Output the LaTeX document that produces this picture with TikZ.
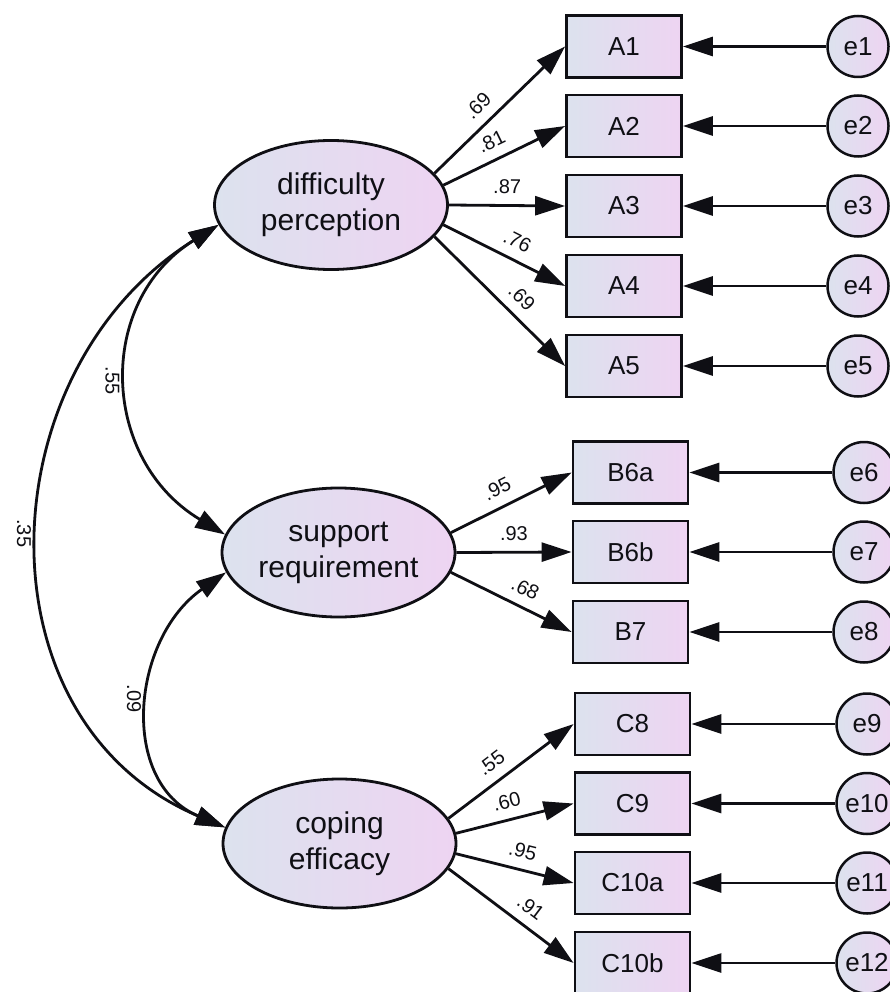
\documentclass[tikz,border=0pt]{standalone}
\usepackage{fontspec}
\setmainfont{Liberation Sans}[Ligatures=NoCommon]
\usetikzlibrary{arrows.meta,shapes.geometric}
\definecolor{fillL}{RGB}{220,226,238}
\definecolor{fillR}{RGB}{238,212,242}
\definecolor{ink}{RGB}{15,15,20}
\begin{document}
\begin{tikzpicture}[x=1pt,y=1pt,
  latent/.style={ellipse, draw=ink, line width=2.8pt, left color=fillL, right color=fillR,
    minimum width=233pt, minimum height=129pt, inner sep=0pt, align=center,
    font=\fontsize{30}{36}\selectfont, text=ink},
  obs/.style={rectangle, draw=ink, line width=2.8pt, left color=fillL, right color=fillR,
    minimum width=115pt, minimum height=62pt, inner sep=0pt,
    font=\fontsize{26}{30}\selectfont, text=ink},
  err/.style={circle, draw=ink, line width=2.5pt, left color=fillL, right color=fillR,
    minimum size=61pt, inner sep=0pt, font=\fontsize{26}{30}\selectfont, text=ink},
  reg/.style={draw=ink, line width=2.8pt, -{Triangle[length=30pt,width=19pt]}},
  cov/.style={draw=ink, line width=2.8pt, {Triangle[length=30pt,width=19pt]}-{Triangle[length=30pt,width=19pt]}},
  coef/.style={font=\fontsize{20}{22}\selectfont, text=ink, sloped, above=8pt, inner sep=2pt},
  clbl/.style={font=\fontsize{20}{22}\selectfont, text=ink, rotate=-90, anchor=north, inner sep=8pt}
]
\path[use as bounding box, clip] (0,0) rectangle (890,-992);

% latent variables
\node[latent] (dp) at (331,-205) {difficulty\\perception};
\node[latent] (sr) at (338.5,-552.5) {support\\requirement};
\node[latent] (cp) at (339.5,-843.5) {coping\\efficacy};

% observed variables
\node[obs] (A1) at (624,-46.5) {A1};
\node[obs] (A2) at (624,-126) {A2};
\node[obs] (A3) at (624,-206) {A3};
\node[obs] (A4) at (624,-286) {A4};
\node[obs] (A5) at (624,-366) {A5};
\node[obs] (B6a) at (630.5,-472.5) {B6a};
\node[obs] (B6b) at (630.5,-552) {B6b};
\node[obs] (B7) at (630.5,-632) {B7};
\node[obs] (C8) at (632.5,-724) {C8};
\node[obs] (C9) at (632.5,-803.5) {C9};
\node[obs] (C10a) at (632.5,-883) {C10a};
\node[obs] (C10b) at (632.5,-963) {C10b};

% error terms
\node[err] (e1) at (858,-46.5) {e1};
\node[err] (e2) at (858,-126) {e2};
\node[err] (e3) at (858,-206) {e3};
\node[err] (e4) at (858,-286) {e4};
\node[err] (e5) at (858,-366) {e5};
\node[err] (e6) at (864,-472.5) {e6};
\node[err] (e7) at (864,-552) {e7};
\node[err] (e8) at (864,-632) {e8};
\node[err] (e9) at (867,-724) {e9};
\node[err] (e10) at (867,-803.5) {e10};
\node[err] (e11) at (867,-883) {e11};
\node[err] (e12) at (867,-963) {e12};

% loadings
\draw[reg] (dp.17) -- node[coef,pos=0.43] (l1) {.69} (A1.west);
\draw[reg] (dp.10) -- node[coef,pos=0.46] (l2) {.81} (A2.west);
\draw[reg] (dp.0) -- node[coef,pos=0.5] (l3) {.87} (A3.west);
\draw[reg] (dp.-10) -- node[coef,pos=0.54] (l4) {.76} (A4.west);
\draw[reg] (dp.-17) -- node[coef,pos=0.57] (l5) {.69} (A5.west);

\draw[reg] (sr.10) -- node[coef,pos=0.45] (l6) {.95} (B6a.west);
\draw[reg] (sr.0) -- node[coef,pos=0.5] (l7) {.93} (B6b.west);
\draw[reg] (sr.-10) -- node[coef,pos=0.55] (l8) {.68} (B7.west);

\draw[reg] (cp.13.7) -- node[coef,pos=0.43] (l9) {.55} (C8.west);
\draw[reg] (cp.5) -- node[coef,pos=0.47] (l10) {.60} (C9.west);
\draw[reg] (cp.-5) -- node[coef,pos=0.53] (l11) {.95} (C10a.west);
\draw[reg] (cp.-13) -- node[coef,pos=0.57] (l12) {.91} (C10b.west);

% error paths
\foreach \e/\o in {e1/A1,e2/A2,e3/A3,e4/A4,e5/A5,e6/B6a,e7/B6b,e8/B7,e9/C8,e10/C9,e11/C10a,e12/C10b}
  \draw[reg] (\e) -- (\o.east);

% covariances
\draw[cov] (dp.190) to[out=212,in=149,looseness=1.2] node[clbl,pos=0.5] (k1) {.55} (sr.171.5);
\draw[cov] (dp.190) to[out=212,in=157,looseness=1.16] node[clbl,pos=0.49] (k2) {.35} (cp.172);
\draw[cov] (sr.190.4) to[out=215,in=157,looseness=1.16] node[clbl,pos=0.47] (k3) {.09} (cp.172);
\end{tikzpicture}
\end{document}
